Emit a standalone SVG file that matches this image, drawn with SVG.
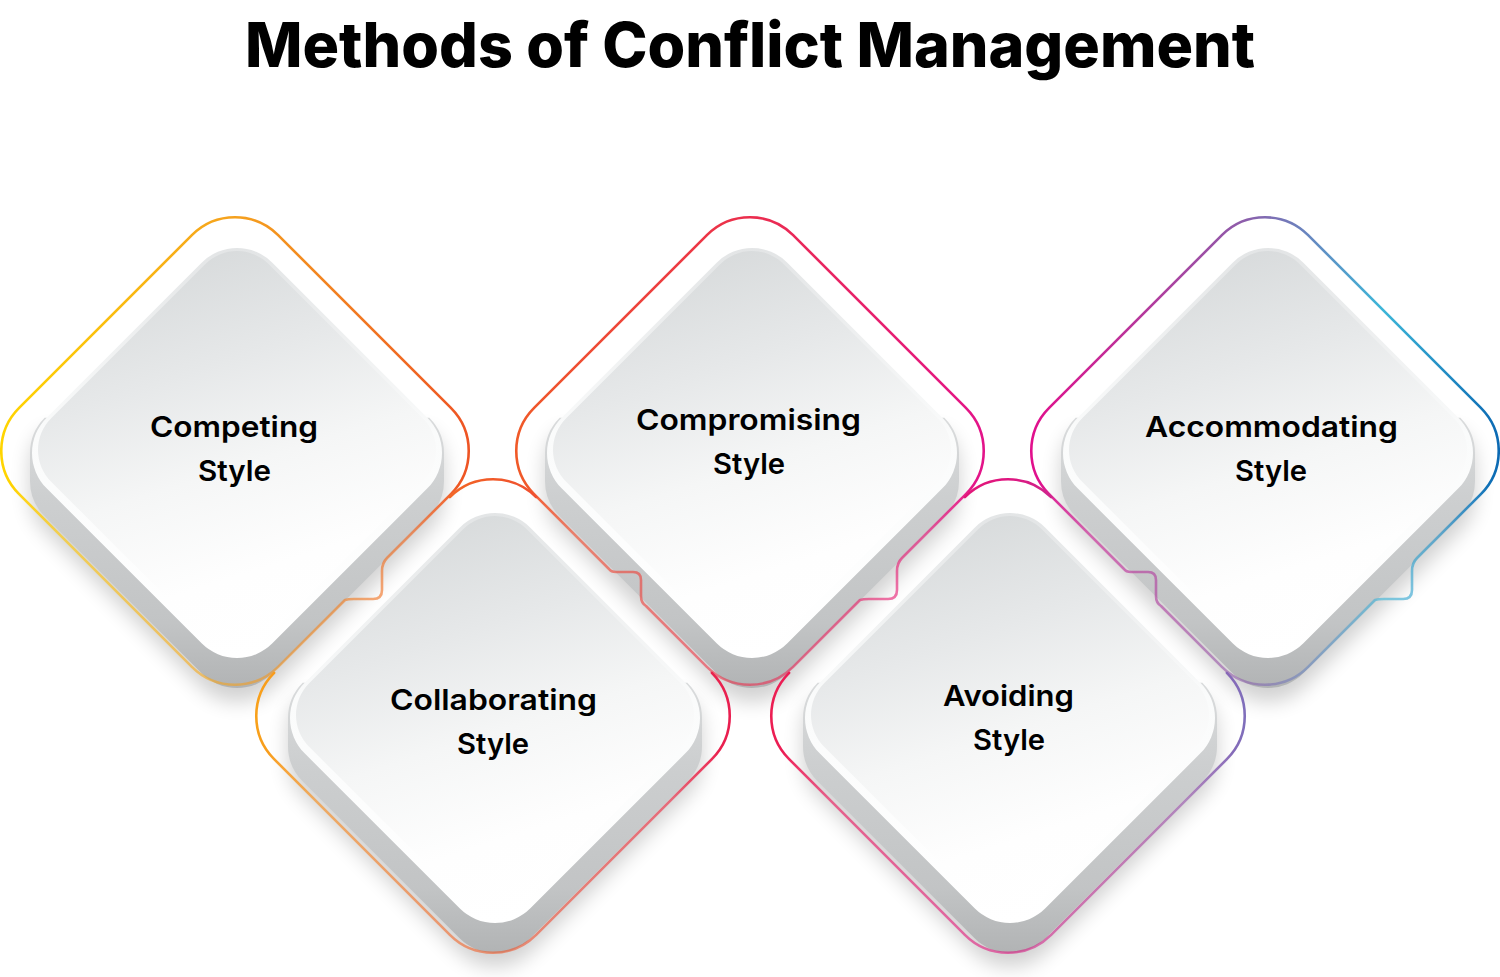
<svg xmlns="http://www.w3.org/2000/svg" xmlns:xlink="http://www.w3.org/1999/xlink" width="1500" height="977" viewBox="0 0 1500 977">
  <style>
    .title { font-family: "Inter", "Liberation Sans", sans-serif; font-weight: 800; font-size: 62px; fill: #000; }
    .label { font-family: "Inter", "Open Sans", "Liberation Sans", sans-serif; font-weight: 600; font-size: 29px; fill: #000; }
    .outline { fill: none; stroke-width: 2.6; stroke-linecap: round; stroke-linejoin: round; }
  </style>
  <defs>
    <!-- outline shapes (local, centered) -->
    <path id="outlineTopFree" d="M -43.13 -215.87 A 61 61 0 0 1 43.13 -215.87 L 215.87 -43.13 A 61 61 0 0 1 215.87 43.13 L 152 107 Q 147 112 147 120 L 147 139 Q 147 148 138 148 L 119 148 Q 113 148 110 149 L 43.13 215.87 A 61 61 0 0 1 -43.13 215.87 L -215.87 43.13 A 61 61 0 0 1 -215.87 -43.13 Z"/>
    <path id="outlineTopBoth" d="M -43.13 -215.87 A 61 61 0 0 1 43.13 -215.87 L 215.87 -43.13 A 61 61 0 0 1 215.87 43.13 L 152 107 Q 147 112 147 120 L 147 139 Q 147 148 138 148 L 119 148 Q 113 148 110 149 L 43.13 215.87 A 61 61 0 0 1 -43.13 215.87 L -104 155 Q -109 152 -109 145 L -109 129 Q -109 121 -117 121 L -134 121 Q -139 121 -141 118 L -215.87 43.13 A 61 61 0 0 1 -215.87 -43.13 Z"/>
    <path id="outlineBottom" d="M -43.13 -218.87 A 61 61 0 0 1 43.13 -218.87 M 218.87 -43.13 A 61 61 0 0 1 218.87 43.13 L 43.13 218.87 A 61 61 0 0 1 -43.13 218.87 L -218.87 43.13 A 61 61 0 0 1 -218.87 -43.13"/>

    <!-- block shapes (local, centered on top face) -->
    <path id="bodyShape" d="M -192.34 -35.36 A 50 50 0 0 0 -207 0 L -207 28 A 50 50 0 0 0 -192.34 63.36 L -35.36 220.34 A 50 50 0 0 0 35.36 220.34 L 192.34 63.36 A 50 50 0 0 0 207 28 L 207 0 A 50 50 0 0 0 192.34 -35.36 Z"/>
    <path id="rimShape" d="M -35.36 -190.35 A 50 50 0 0 1 35.36 -190.35 L 190.35 -35.36 A 50 50 0 0 1 190.35 35.36 L 35.36 190.35 A 50 50 0 0 1 -35.36 190.35 L -190.35 35.36 A 50 50 0 0 1 -190.35 -35.36 Z"/>
    <path id="faceShape" d="M -31.82 -185.82 A 45 45 0 0 1 31.82 -185.82 L 185.82 -31.82 A 45 45 0 0 1 185.82 31.82 L 31.82 185.82 A 45 45 0 0 1 -31.82 185.82 L -185.82 31.82 A 45 45 0 0 1 -185.82 -31.82 Z"/>

    <!-- outline gradients -->
    <linearGradient id="g1" gradientUnits="userSpaceOnUse" x1="-235" y1="0" x2="235" y2="0">
      <stop offset="0" stop-color="#FFD500"/><stop offset="0.5" stop-color="#F5A11E"/><stop offset="1" stop-color="#EE5424"/>
    </linearGradient>
    <linearGradient id="g2" gradientUnits="userSpaceOnUse" x1="-238" y1="0" x2="238" y2="0">
      <stop offset="0" stop-color="#F8A11B"/><stop offset="0.5" stop-color="#F15A29"/><stop offset="1" stop-color="#E91E50"/>
    </linearGradient>
    <linearGradient id="g3" gradientUnits="userSpaceOnUse" x1="-235" y1="0" x2="235" y2="0">
      <stop offset="0" stop-color="#F05A28"/><stop offset="0.5" stop-color="#EB2D4D"/><stop offset="1" stop-color="#E3148A"/>
    </linearGradient>
    <linearGradient id="g4" gradientUnits="userSpaceOnUse" x1="-238" y1="0" x2="238" y2="0">
      <stop offset="0" stop-color="#EC1E52"/><stop offset="0.5" stop-color="#DF1580"/><stop offset="1" stop-color="#7F6FBB"/>
    </linearGradient>
    <linearGradient id="g5" gradientUnits="userSpaceOnUse" x1="-235" y1="0" x2="235" y2="0">
      <stop offset="0" stop-color="#E20F8C"/><stop offset="0.45" stop-color="#8E5CAA"/><stop offset="0.75" stop-color="#3DB6D8"/><stop offset="1" stop-color="#0B69B3"/>
    </linearGradient>

    <!-- fade of the lower part of outlines -->
    <linearGradient id="fadeGrad" gradientUnits="userSpaceOnUse" x1="0" y1="-300" x2="0" y2="300">
      <stop offset="0.56" stop-color="#ffffff"/><stop offset="0.64" stop-color="#a4a4a4"/><stop offset="1" stop-color="#909090"/>
    </linearGradient>
    <mask id="fade" maskUnits="userSpaceOnUse" x="-300" y="-300" width="600" height="600">
      <rect x="-300" y="-300" width="600" height="600" fill="url(#fadeGrad)"/>
    </mask>

    <!-- block gradients -->
    <linearGradient id="bodyG" gradientUnits="userSpaceOnUse" x1="0" y1="-40" x2="0" y2="240">
      <stop offset="0" stop-color="#dadcdd"/><stop offset="0.3" stop-color="#cdcfd0"/><stop offset="0.75" stop-color="#c2c4c5"/><stop offset="1" stop-color="#b0b2b3"/>
    </linearGradient>
    <linearGradient id="rimG" x1="0" y1="0" x2="0" y2="1">
      <stop offset="0" stop-color="#e3e5e6"/><stop offset="0.45" stop-color="#fafbfb"/><stop offset="1" stop-color="#ffffff"/>
    </linearGradient>
    <linearGradient id="faceG" x1="0.3" y1="0" x2="0.62" y2="1">
      <stop offset="0" stop-color="#d6d9da"/><stop offset="0.3" stop-color="#e6e8e9"/><stop offset="0.55" stop-color="#f5f6f6"/><stop offset="0.8" stop-color="#fefefe"/><stop offset="1" stop-color="#ffffff"/>
    </linearGradient>
    <filter id="blur" x="-30%" y="-30%" width="160%" height="160%">
      <feGaussianBlur stdDeviation="10"/>
    </filter>
  </defs>

  <rect width="1500" height="977" fill="#ffffff"/>

  <text class="title" x="750" y="67" text-anchor="middle" textLength="1010" lengthAdjust="spacingAndGlyphs">Methods of Conflict Management</text>

  <!-- Competing -->
  <g id="node-competing">
    <g transform="translate(237,453)">
      <use href="#bodyShape" transform="translate(0,14)" fill="#000" opacity="0.18" filter="url(#blur)"/>
      <use href="#bodyShape" fill="url(#bodyG)"/>
      <use href="#rimShape" fill="url(#rimG)"/>
      <use href="#faceShape" transform="translate(0,-3)" fill="url(#faceG)"/>
    </g>
    <g transform="translate(235,451)" mask="url(#fade)">
      <use href="#outlineTopFree" class="outline" stroke="url(#g1)"/>
    </g>
    <text class="label" x="234" y="437" text-anchor="middle" textLength="168" lengthAdjust="spacingAndGlyphs">Competing</text>
    <text class="label" x="234.5" y="481" text-anchor="middle" textLength="73" lengthAdjust="spacingAndGlyphs">Style</text>
  </g>

  <!-- Compromising -->
  <g id="node-compromising">
    <g transform="translate(752,453)">
      <use href="#bodyShape" transform="translate(0,14)" fill="#000" opacity="0.18" filter="url(#blur)"/>
      <use href="#bodyShape" fill="url(#bodyG)"/>
      <use href="#rimShape" fill="url(#rimG)"/>
      <use href="#faceShape" transform="translate(0,-3)" fill="url(#faceG)"/>
    </g>
    <g transform="translate(750,451)" mask="url(#fade)">
      <use href="#outlineTopBoth" class="outline" stroke="url(#g3)"/>
    </g>
    <text class="label" x="748.5" y="430" text-anchor="middle" textLength="225" lengthAdjust="spacingAndGlyphs">Compromising</text>
    <text class="label" x="749" y="474" text-anchor="middle" textLength="72" lengthAdjust="spacingAndGlyphs">Style</text>
  </g>

  <!-- Accommodating -->
  <g id="node-accommodating">
    <g transform="translate(1268,453)">
      <use href="#bodyShape" transform="translate(0,14)" fill="#000" opacity="0.18" filter="url(#blur)"/>
      <use href="#bodyShape" fill="url(#bodyG)"/>
      <use href="#rimShape" fill="url(#rimG)"/>
      <use href="#faceShape" transform="translate(0,-3)" fill="url(#faceG)"/>
    </g>
    <g transform="translate(1265,451)" mask="url(#fade)">
      <use href="#outlineTopBoth" class="outline" stroke="url(#g5)"/>
    </g>
    <text class="label" x="1271.5" y="437" text-anchor="middle" textLength="253" lengthAdjust="spacingAndGlyphs">Accommodating</text>
    <text class="label" x="1271" y="481" text-anchor="middle" textLength="72" lengthAdjust="spacingAndGlyphs">Style</text>
  </g>

  <!-- Collaborating -->
  <g id="node-collaborating">
    <g transform="translate(495,718)">
      <use href="#bodyShape" transform="translate(0,14)" fill="#000" opacity="0.18" filter="url(#blur)"/>
      <use href="#bodyShape" fill="url(#bodyG)"/>
      <use href="#rimShape" fill="url(#rimG)"/>
      <use href="#faceShape" transform="translate(0,-3)" fill="url(#faceG)"/>
    </g>
    <g transform="translate(493,716)" mask="url(#fade)">
      <use href="#outlineBottom" class="outline" stroke="url(#g2)"/>
    </g>
    <text class="label" x="493.5" y="710" text-anchor="middle" textLength="207" lengthAdjust="spacingAndGlyphs">Collaborating</text>
    <text class="label" x="493" y="754" text-anchor="middle" textLength="72" lengthAdjust="spacingAndGlyphs">Style</text>
  </g>

  <!-- Avoiding -->
  <g id="node-avoiding">
    <g transform="translate(1010,718)">
      <use href="#bodyShape" transform="translate(0,14)" fill="#000" opacity="0.18" filter="url(#blur)"/>
      <use href="#bodyShape" fill="url(#bodyG)"/>
      <use href="#rimShape" fill="url(#rimG)"/>
      <use href="#faceShape" transform="translate(0,-3)" fill="url(#faceG)"/>
    </g>
    <g transform="translate(1008,716)" mask="url(#fade)">
      <use href="#outlineBottom" class="outline" stroke="url(#g4)"/>
    </g>
    <text class="label" x="1008.5" y="706" text-anchor="middle" textLength="131" lengthAdjust="spacingAndGlyphs">Avoiding</text>
    <text class="label" x="1009" y="750" text-anchor="middle" textLength="72" lengthAdjust="spacingAndGlyphs">Style</text>
  </g>

  <g id="connectors"></g>
</svg>
